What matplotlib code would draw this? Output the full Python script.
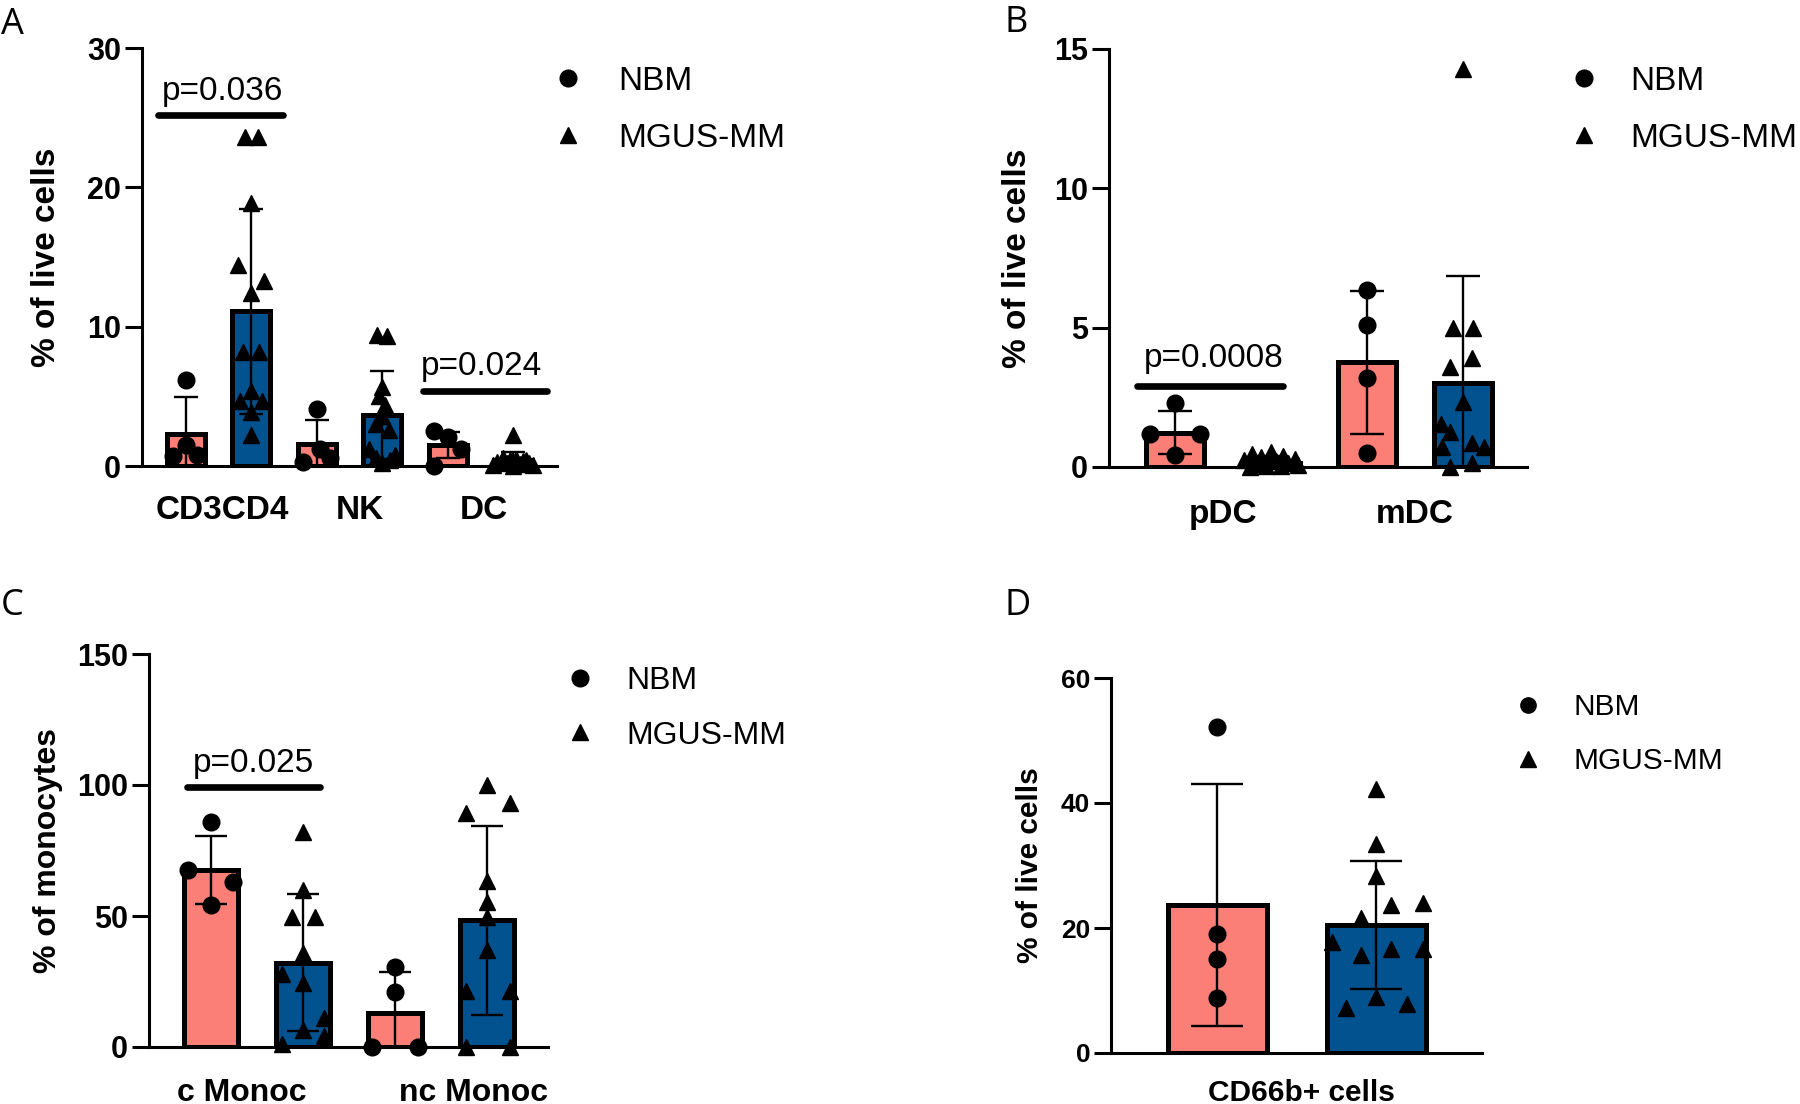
import matplotlib
matplotlib.use('Agg')
import matplotlib.pyplot as plt
from matplotlib.lines import Line2D
import numpy as np

plt.rcParams['font.family'] = ['Liberation Sans', 'DejaVu Sans']

W, H = 1800, 1104
NBM_COLOR = '#FB7F76'
MM_COLOR = '#02528F'

# ---------------- Panel A ----------------
a_categories = ['CD3CD4', 'NK', 'DC']
a_nbm_mean = [2.3, 1.6, 1.5]
a_nbm_sd = [2.65, 1.7, 0.95]
a_mm_mean = [11.1, 3.65, 0.4]
a_mm_sd = [7.35, 3.15, 0.6]
a_nbm_points = [[6.2, 1.5, 0.7, 0.8], [4.1, 1.2, 0.3, 0.6], [2.5, 2.1, 1.25, 0.0]]
a_nbm_jitter = [[0, 0, -0.19, 0.17], [0, 0.05, -0.2, 0.2], [-0.2, 0, 0.2, -0.2]]
a_mm_points = [[23.6, 23.6, 18.9, 14.4, 13.3, 12.4, 8.2, 8.2, 5.4, 4.7, 4.7, 3.9, 2.2],
               [9.4, 9.3, 5.7, 5.0, 4.4, 3.6, 3.0, 2.6, 1.2, 0.8, 0.6, 0.4, 0.2],
               [2.2, 0.6, 0.5, 0.45, 0.4, 0.35, 0.3, 0.25, 0.2, 0.15, 0.1, 0.05, 0.0]]
a_mm_jitter = [[-0.1, 0.1, 0, -0.2, 0.2, 0, -0.12, 0.12, 0, -0.17, 0.17, 0, 0],
               [-0.08, 0.08, 0, -0.05, 0.05, 0, -0.1, 0.1, -0.2, 0.2, -0.1, 0.12, 0],
               [0, -0.15, 0.05, 0.2, -0.05, 0.15, -0.25, 0.25, -0.1, 0.1, -0.3, 0.3, 0]]
a_yticks = [0, 10, 20, 30]
a_pvals = ['p=0.036', 'p=0.024']

# ---------------- Panel B ----------------
b_categories = ['pDC', 'mDC']
b_nbm_mean = [1.23, 3.75]
b_nbm_sd = [0.77, 2.55]
b_mm_mean = [0.15, 3.0]
b_mm_sd = [0.25, 3.85]
b_nbm_points = [[2.3, 1.17, 1.17, 0.43], [6.35, 5.1, 3.2, 0.5]]
b_nbm_jitter = [[0, -0.26, 0.26, 0], [0, 0, 0, 0]]
b_mm_points = [[0.55, 0.45, 0.4, 0.35, 0.3, 0.25, 0.2, 0.15, 0.1, 0.08, 0.05, 0.02, 0.0],
               [14.3, 5.0, 5.0, 3.9, 3.6, 2.35, 1.55, 1.25, 0.85, 0.72, 0.72, 0.15, 0.0]]
b_mm_jitter = [[0, -0.2, 0.12, -0.1, 0.25, -0.28, 0.05, 0.18, -0.15, 0.28, -0.05, 0.1, -0.22],
               [0, -0.1, 0.1, 0.09, -0.13, 0, -0.23, -0.13, 0.09, -0.22, 0.22, 0.09, -0.13]]
b_yticks = [0, 5, 10, 15]
b_pvals = ['p=0.0008']

# ---------------- Panel C ----------------
c_categories = ['c Monoc', 'nc Monoc']
c_nbm_mean = [67.6, 12.9]
c_nbm_sd = [13.1, 15.6]
c_mm_mean = [32.2, 48.4]
c_mm_sd = [26.2, 36.0]
c_nbm_points = [[85.9, 67.4, 62.8, 54.3], [30.5, 21.0, 0.0, 0.0]]
c_nbm_jitter = [[0, -0.25, 0.24, 0], [0, 0, -0.25, 0.25]]
c_mm_points = [[82.2, 59.9, 49.5, 49.5, 35.7, 27.9, 24.6, 10.9, 6.3, 4.3, 1.0],
               [99.9, 93.3, 89.4, 63.2, 55.4, 49.5, 37.0, 21.3, 21.3, 0.0, 0.0]]
c_mm_jitter = [[0, 0, -0.12, 0.13, 0, -0.23, 0, 0.23, 0, 0.23, -0.23],
               [0, 0.25, -0.23, 0, 0, 0, 0, -0.23, 0.25, -0.23, 0.25]]
c_yticks = [0, 50, 100, 150]
c_pvals = ['p=0.025']

# ---------------- Panel D ----------------
d_categories = ['CD66b+ cells']
d_nbm_mean = [23.75]
d_nbm_sd = [19.35]
d_mm_mean = [20.5]
d_mm_sd = [10.2]
d_nbm_points = [[52.1, 19.0, 15.0, 8.85]]
d_nbm_jitter = [[0, 0, 0, 0]]
d_mm_points = [[42.2, 33.4, 28.4, 23.7, 24.0, 21.6, 17.7, 16.7, 16.7, 15.7, 9.0, 7.2, 7.9]]
d_mm_jitter = [[0, 0, 0, 0.09, 0.29, -0.1, -0.28, 0.09, 0.29, -0.1, 0, -0.19, 0.19]]
d_yticks = [0, 20, 40, 60]

groups = ['NBM', 'MGUS-MM']

fig = plt.figure(figsize=(W / 100, H / 100), dpi=100)


def px_axes(left, right, top, bottom):
    return fig.add_axes([left / W, 1 - bottom / H, (right - left) / W, (bottom - top) / H])


def draw_panel(ax, cats, nbm_mean, nbm_sd, mm_mean, mm_sd, nbm_pts, nbm_jit, mm_pts, mm_jit,
               yticks, xlim, barw, capsize, tick_fs, xlab_fs, xlab_pos, xpad, ylabel, ylab_fs, ylab_x):
    n = len(cats)
    xn = np.arange(n) * 2
    xm = xn + 1
    ax.bar(xn, nbm_mean, width=barw, color=NBM_COLOR, edgecolor='black', linewidth=3.6, zorder=1)
    ax.bar(xm, mm_mean, width=barw, color=MM_COLOR, edgecolor='black', linewidth=3.6, zorder=1)
    ax.errorbar(xn, nbm_mean, yerr=nbm_sd, fmt='none', ecolor='black', elinewidth=1.7,
                capsize=capsize, capthick=1.7, zorder=2)
    ax.errorbar(xm, mm_mean, yerr=mm_sd, fmt='none', ecolor='black', elinewidth=1.7,
                capsize=capsize, capthick=1.7, zorder=2)
    for i in range(n):
        ax.plot(xn[i] + np.array(nbm_jit[i]), nbm_pts[i], ls='none', marker='o', ms=12,
                color='black', zorder=3, clip_on=False)
        ax.plot(xm[i] + np.array(mm_jit[i]), mm_pts[i], ls='none', marker='^', ms=11,
                color='black', zorder=3, clip_on=False)
    ax.set_xlim(*xlim)
    ax.set_ylim(yticks[0], yticks[-1])
    ax.set_yticks(yticks)
    ax.set_yticklabels([str(t) for t in yticks], fontweight='bold', fontsize=tick_fs)
    ax.set_xticks(xlab_pos)
    ax.set_xticklabels(cats, fontweight='bold', fontsize=xlab_fs)
    ax.tick_params(axis='x', length=0, pad=xpad)
    ax.tick_params(axis='y', length=12, width=2.2, pad=3)
    for s in ['top', 'right']:
        ax.spines[s].set_visible(False)
    for s in ['left', 'bottom']:
        ax.spines[s].set_linewidth(2.2)
    ax.set_ylabel(ylabel, fontweight='bold', fontsize=ylab_fs, va='center')
    ax.yaxis.set_label_coords(ylab_x, 0.5)
    ax.patch.set_alpha(0)


def sig(ax, x0, x1, y, ty, xc, text, fs=24):
    ax.plot([x0, x1], [y, y], color='black', lw=4.8, solid_capstyle='round', clip_on=False, zorder=4)
    ax.text(xc, ty, text, ha='center', va='baseline', fontsize=fs)


def legend(ax, mx, my, tx, row, fs, ms=12):
    fs_px = fs / 0.72
    hl = 0.8
    handles = [Line2D([], [], ls='none', marker='o', color='black', ms=ms),
               Line2D([], [], ls='none', marker='^', color='black', ms=ms)]
    labelspacing = (row - 0.93 * fs_px) / fs_px
    pad = (tx - mx - hl * fs_px / 2) / fs_px
    x0 = mx - hl * fs_px / 2
    top = my - (0.716 - 0.35) * fs_px
    ax.legend(handles, groups, loc='upper left', bbox_to_anchor=(x0 / W, 1 - top / H),
              bbox_transform=fig.transFigure, frameon=False, borderpad=0, borderaxespad=0,
              handlelength=hl, handletextpad=pad, labelspacing=labelspacing, fontsize=fs,
              handleheight=0.7, numpoints=1)


# Panel A
axA = px_axes(142, 557, 48, 466)
draw_panel(axA, a_categories, a_nbm_mean, a_nbm_sd, a_mm_mean, a_mm_sd, a_nbm_points, a_nbm_jitter,
           a_mm_points, a_mm_jitter, a_yticks, (-0.665, 5.67), 0.58, 8.3, 22, 24,
           [0.56, 2.66, 4.56], 21, '% of live cells', 24, -0.231)
sig(axA, -0.42, 1.49, 25.2, 26.3, 0.56, a_pvals[0])
sig(axA, 3.63, 5.52, 5.4, 6.5, 4.52, a_pvals[1])
legend(axA, 568, 78, 618, 57, 24)

# Panel B
axB = px_axes(1109, 1527, 49, 467)
draw_panel(axB, b_categories, b_nbm_mean, b_nbm_sd, b_mm_mean, b_mm_sd, b_nbm_points, b_nbm_jitter,
           b_mm_points, b_mm_jitter, b_yticks, (-0.6875, 3.667), 0.61, 11.9, 22, 24,
           [0.5, 2.5], 23, '% of live cells', 24, -0.22)
sig(axB, -0.4, 1.13, 2.9, 3.6, 0.4, b_pvals[0])
legend(axB, 1584, 78, 1630, 57, 24)

# Panel C
axC = px_axes(149, 548, 654, 1047)
draw_panel(axC, c_categories, c_nbm_mean, c_nbm_sd, c_mm_mean, c_mm_sd, c_nbm_points, c_nbm_jitter,
           c_mm_points, c_mm_jitter, c_yticks, (-0.674, 3.663), 0.58, 11.5, 22, 23,
           [0.33, 2.85], 22, '% of monocytes', 23, -0.253)
sig(axC, -0.26, 1.19, 99.2, 105, 0.46, c_pvals[0])
legend(axC, 580, 678, 626, 54, 23)

# Panel D
axD = px_axes(1111, 1482, 678, 1053)
draw_panel(axD, d_categories, d_nbm_mean, d_nbm_sd, d_mm_mean, d_mm_sd, d_nbm_points, d_nbm_jitter,
           d_mm_points, d_mm_jitter, d_yticks, (-0.67, 1.664), 0.62, 19, 19, 21.5,
           [0.53], 19, '% of live cells', 21.5, -0.218)
legend(axD, 1528, 704, 1573, 54, 21.5, ms=11)

# Panel letters
for letter, (x, y) in zip(['A', 'B', 'C', 'D'], [(1, 7), (1005, 5), (1, 588), (1005, 588)]):
    fig.text(x / W, 1 - y / H, letter, ha='left', va='top', fontsize=26, family='Open Sans')

fig.savefig('out.png', dpi=100)
